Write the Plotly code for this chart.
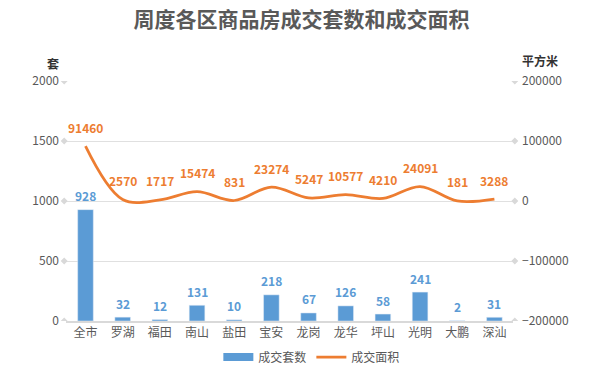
import plotly.graph_objects as go

categories = ["全市", "罗湖", "福田", "南山", "盐田", "宝安", "龙岗", "龙华", "坪山", "光明", "大鹏", "深汕"]
units = [928, 32, 12, 131, 10, 218, 67, 126, 58, 241, 2, 31]
area = [91460, 2570, 1717, 15474, 831, 23274, 5247, 10577, 4210, 24091, 181, 3288]
left_ticks = [0, 500, 1000, 1500, 2000]
right_ticks = [-200000, -100000, 0, 100000, 200000]

FONT = "Noto Sans CJK SC"
BLUE = "#5B9BD5"
ORANGE = "#ED7D31"
GRAY = "#595959"

fig = go.Figure()
fig.add_trace(go.Bar(
    x=categories, y=units, name="成交套数", marker_color=BLUE, width=0.42,
    showlegend=False,
))
# legend entry for bars drawn as wide rectangle
fig.add_trace(go.Scatter(
    x=[None], y=[None], name="成交套数", mode="lines",
    line=dict(color=BLUE, width=8),
))
fig.add_trace(go.Scatter(
    x=categories, y=area, name="成交面积", yaxis="y2", mode="lines",
    line=dict(color=ORANGE, width=2.75, shape="spline", smoothing=1.0),
))

annotations = []
for c, v in zip(categories, units):
    annotations.append(dict(x=c, y=v, xref="x", yref="y", text=str(v), showarrow=False,
                            yanchor="middle", yshift=14,
                            font=dict(color=BLUE, size=12, family=FONT, weight="bold")))
for c, v in zip(categories, area):
    annotations.append(dict(x=c, y=v, xref="x", yref="y2", text=str(v), showarrow=False,
                            yanchor="middle", yshift=19,
                            font=dict(color=ORANGE, size=12, family=FONT, weight="bold")))
annotations += [
    dict(text="套", xref="paper", yref="paper", x=-0.047, y=1.0, yanchor="bottom", yshift=7,
         showarrow=False, font=dict(size=12, color="#333333", family=FONT, weight="bold")),
    dict(text="平方米", xref="paper", yref="paper", x=1.06, y=1.0, yanchor="bottom", yshift=10,
         showarrow=False, xanchor="center",
         font=dict(size=12, color="#333333", family=FONT, weight="bold")),
]

shapes = []
diamond = "M -3.5 0 L 0 3.5 L 3.5 0 L 0 -3.5 Z"
for t in left_ticks:
    for xa in (-0.004, 1.004):
        shapes.append(dict(type="path", xref="paper", yref="y", xsizemode="pixel", ysizemode="pixel",
                           xanchor=xa, yanchor=t, path=diamond, fillcolor="#d9d9d9",
                           line=dict(width=0), layer="above"))

fig.update_layout(
    width=603, height=372,
    margin=dict(l=66, r=90, t=81, b=51, autoexpand=False),
    paper_bgcolor="white", plot_bgcolor="white",
    font=dict(family=FONT, color=GRAY, size=12),
    title=dict(text="周度各区商品房成交套数和成交面积", x=0.5, xanchor="center", y=0.947, yanchor="middle",
               font=dict(size=21, color=GRAY, family=FONT, weight="bold")),
    xaxis=dict(showgrid=False, showline=True, linecolor="#d9d9d9", linewidth=1.5, ticks="",
               tickfont=dict(size=12, color=GRAY)),
    yaxis=dict(range=[0, 2000], tickvals=left_ticks, showgrid=True, gridcolor="#e0e0e0", gridwidth=1,
               zeroline=False, ticks="", tickfont=dict(size=12, color=GRAY), ticklabelstandoff=6),
    yaxis2=dict(range=[-200000, 200000], tickvals=right_ticks, overlaying="y", side="right",
                showgrid=False, zeroline=False, ticks="", tickformat="d",
                tickfont=dict(size=12, color=GRAY), ticklabelstandoff=8),
    legend=dict(orientation="h", x=0.55, xanchor="center", y=-0.15, yanchor="middle",
                font=dict(size=12, color=GRAY), itemwidth=30, tracegroupgap=0),
    showlegend=True,
    shapes=shapes,
    annotations=annotations,
)

fig.write_html("out.html", config={"displayModeBar": False},
               post_script="document.body.style.margin='0px';")
